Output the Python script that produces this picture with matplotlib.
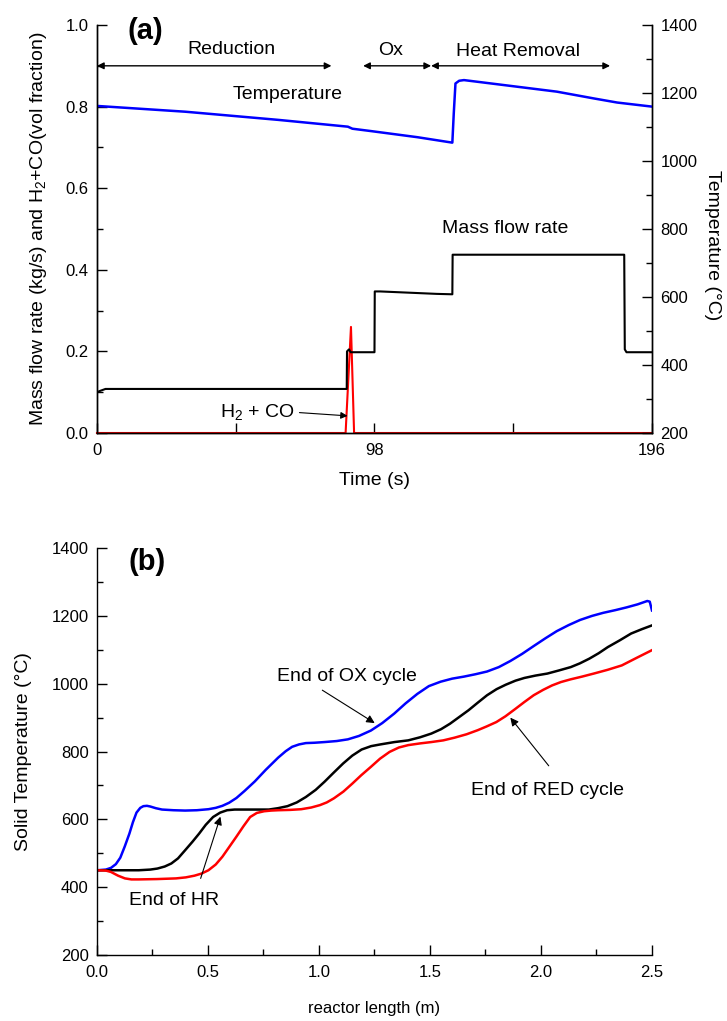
import matplotlib
matplotlib.use('Agg')
import matplotlib.pyplot as plt
from matplotlib.ticker import MultipleLocator, FixedLocator, FormatStrFormatter

plt.rcParams['font.family'] = ['Liberation Sans', 'DejaVu Sans']
plt.rcParams['mathtext.fontset'] = 'custom'
plt.rcParams['mathtext.rm'] = 'Liberation Sans'
plt.rcParams['mathtext.it'] = 'Liberation Sans'
plt.rcParams['axes.linewidth'] = 1.0

# ---- panel (a) data ----
mass_t = [0, 1, 3, 88.2, 88.3, 89.0, 89.6, 98.0, 98.1, 100, 110, 120, 125.5, 125.6, 186.2, 186.4, 187, 196]
mass_v = [0.100, 0.103, 0.108, 0.108, 0.200, 0.205, 0.198, 0.198, 0.347, 0.347, 0.344, 0.341, 0.340, 0.437,
          0.437, 0.205, 0.198, 0.198]

gas_t = [0, 87.8, 89.7, 90.8, 196]
gas_v = [0, 0, 0.26, 0, 0]

temp_t = [0, 31.2, 64, 88.6, 90.2, 96.8, 113.2, 125.5, 126.0, 126.6, 127.9, 129.6, 146, 162.4, 175.5, 183.7, 196]
temp_v = [1162, 1145, 1121, 1101, 1095, 1088, 1070, 1054, 1140, 1228, 1236, 1238, 1221, 1204, 1184, 1172, 1160]

# ---- panel (b) data ----
ox_x = [0, 0.04, 0.063, 0.085, 0.105, 0.125, 0.146, 0.162, 0.178, 0.195, 0.209, 0.225, 0.24, 0.265, 0.293,
        0.345, 0.397, 0.45, 0.502, 0.535, 0.565, 0.595, 0.628, 0.665, 0.711, 0.76, 0.816, 0.85, 0.879, 0.91,
        0.941, 0.98, 1.025, 1.08, 1.13, 1.18, 1.234, 1.285, 1.339, 1.39, 1.443, 1.495, 1.548, 1.6, 1.653,
        1.705, 1.757, 1.81, 1.862, 1.915, 1.967, 2.02, 2.071, 2.125, 2.176, 2.23, 2.28, 2.335, 2.385, 2.435,
        2.479, 2.49, 2.5]
ox_T = [450, 452, 457, 468, 487, 520, 558, 592, 620, 634, 639, 640, 638, 633, 629, 627, 626, 627, 630, 634,
        640, 649, 663, 684, 712, 746, 782, 801, 814, 821, 825, 826, 828, 831, 836, 846, 862, 884, 912, 942,
        970, 993, 1006, 1015, 1021, 1028, 1036, 1049, 1067, 1088, 1111, 1134, 1155, 1173, 1188, 1200, 1209,
        1217, 1225, 1234, 1244, 1242, 1216]

hr_x = [0, 0.1, 0.188, 0.24, 0.272, 0.305, 0.335, 0.365, 0.397, 0.43, 0.46, 0.49, 0.523, 0.555, 0.586,
        0.62, 0.649, 0.71, 0.774, 0.815, 0.858, 0.9, 0.941, 0.985, 1.025, 1.065, 1.109, 1.15, 1.192, 1.235,
        1.276, 1.34, 1.402, 1.455, 1.506, 1.55, 1.59, 1.63, 1.674, 1.715, 1.757, 1.8, 1.841, 1.885, 1.925,
        1.975, 2.029, 2.08, 2.134, 2.175, 2.218, 2.26, 2.301, 2.355, 2.406, 2.455, 2.5]
hr_T = [450, 450, 450, 452, 455, 461, 470, 485, 509, 534, 558, 584, 607, 620, 627, 629, 629, 629, 629, 633,
        639, 650, 666, 687, 711, 737, 765, 788, 806, 816, 821, 828, 833, 842, 853, 866, 882, 901, 922, 944,
        966, 984, 997, 1009, 1017, 1024, 1030, 1039, 1049, 1060, 1074, 1090, 1108, 1128, 1148, 1161, 1172]

red_x = [0, 0.04, 0.063, 0.095, 0.126, 0.155, 0.188, 0.27, 0.356, 0.4, 0.439, 0.47, 0.502, 0.535, 0.565,
         0.595, 0.628, 0.66, 0.69, 0.72, 0.753, 0.785, 0.816, 0.87, 0.92, 0.965, 1.004, 1.035, 1.067, 1.11,
         1.151, 1.19, 1.234, 1.275, 1.318, 1.36, 1.402, 1.455, 1.506, 1.56, 1.611, 1.665, 1.715, 1.755, 1.799,
         1.84, 1.883, 1.925, 1.967, 2.01, 2.05, 2.09, 2.134, 2.185, 2.238, 2.3, 2.364, 2.43, 2.5]
red_T = [450, 449, 445, 434, 426, 423, 423, 424, 426, 429, 434, 440, 450, 467, 490, 518, 549, 580, 607, 619,
         624, 626, 627, 628, 630, 635, 642, 650, 662, 682, 706, 730, 755, 779, 799, 812, 819, 824, 828, 833,
         841, 851, 863, 874, 887, 904, 925, 946, 966, 982, 995, 1005, 1013, 1021, 1030, 1041, 1054, 1076, 1099]

fig = plt.figure(figsize=(7.27, 10.21), dpi=100)

def style_ax(ax):
    ax.tick_params(which='both', direction='in', labelsize=12, width=1)
    ax.tick_params(which='major', length=7)
    ax.tick_params(which='minor', length=4)
    ax.tick_params(axis='y', pad=6)
    ax.tick_params(axis='x', pad=7)

# ---------- (a) ----------
ax1 = fig.add_axes([0.1334, 0.5759, 0.7634, 0.3996])
ax1.plot(mass_t, mass_v, color='black', lw=1.5, zorder=3)
ax1.plot(gas_t, gas_v, color='red', lw=1.5, zorder=2, clip_on=False)
ax1.set_xlim(0, 196)
ax1.set_ylim(0, 1.0)
ax1.xaxis.set_major_locator(FixedLocator([0, 98, 196]))
ax1.xaxis.set_minor_locator(FixedLocator([49, 147]))
ax1.yaxis.set_major_locator(MultipleLocator(0.2))
ax1.yaxis.set_minor_locator(MultipleLocator(0.1))
ax1.yaxis.set_major_formatter(FormatStrFormatter('%.1f'))
style_ax(ax1)
ax1.tick_params(axis='x', which='minor', length=7)
ax1.spines['top'].set_visible(False)
ax1.set_xlabel('Time (s)', fontsize=14, labelpad=10)
ax1.set_ylabel('Mass flow rate (kg/s) and H$_2$+CO(vol fraction)', fontsize=14, labelpad=12)

ax2 = ax1.twinx()
ax2.plot(temp_t, temp_v, color='blue', lw=1.8)
ax2.set_ylim(200, 1400)
ax2.yaxis.set_major_locator(MultipleLocator(200))
ax2.yaxis.set_minor_locator(MultipleLocator(100))
style_ax(ax2)
ax2.spines['top'].set_visible(False)
ax2.set_ylabel('Temperature (°C)', fontsize=14, rotation=270, labelpad=20)
ax2.yaxis.set_label_coords(1.125, 0.46)

ax1.text(0.088, 0.985, '(a)', transform=ax1.transAxes, fontsize=21, fontweight='bold', ha='center', va='center')
arrow_kw = dict(arrowstyle='<|-|>', color='black', lw=1, mutation_scale=10, shrinkA=0, shrinkB=0)
ax1.annotate('', xy=(0, 0.9), xytext=(82.8, 0.9), arrowprops=arrow_kw, annotation_clip=False)
ax1.annotate('', xy=(94, 0.9), xytext=(118, 0.9), arrowprops=arrow_kw)
ax1.annotate('', xy=(118, 0.9), xytext=(181.2, 0.9), arrowprops=arrow_kw)
ax1.text(47.6, 0.94, 'Reduction', fontsize=14, ha='center', va='center')
ax1.text(103.8, 0.937, 'Ox', fontsize=14, ha='center', va='center')
ax1.text(148.8, 0.935, 'Heat Removal', fontsize=14, ha='center', va='center')
ax1.text(67.2, 0.829, 'Temperature', fontsize=14, ha='center', va='center')
ax1.text(144.3, 0.502, 'Mass flow rate', fontsize=14, ha='center', va='center')
ax1.text(56.6, 0.052, 'H$_2$ + CO', fontsize=14, ha='center', va='center')
ax1.annotate('', xy=(88.5, 0.042), xytext=(71.5, 0.05),
             arrowprops=dict(arrowstyle='-|>', color='black', lw=0.8, mutation_scale=10, shrinkA=0, shrinkB=0))

# ---------- (b) ----------
ax3 = fig.add_axes([0.1334, 0.0646, 0.7634, 0.3986])
ax3.plot(ox_x, ox_T, color='blue', lw=1.8)
ax3.plot(hr_x, hr_T, color='black', lw=1.8)
ax3.plot(red_x, red_T, color='red', lw=1.8)
ax3.set_xlim(0, 2.5)
ax3.set_ylim(200, 1400)
ax3.xaxis.set_major_locator(MultipleLocator(0.5))
ax3.xaxis.set_minor_locator(MultipleLocator(0.25))
ax3.yaxis.set_major_locator(MultipleLocator(200))
ax3.yaxis.set_minor_locator(MultipleLocator(100))
style_ax(ax3)
ax3.spines['top'].set_visible(False)
ax3.spines['right'].set_visible(False)
ax3.set_xlabel('reactor length (m)', fontsize=12, labelpad=15)
ax3.set_ylabel('Solid Temperature (°C)', fontsize=14, labelpad=14)

ax3.text(0.09, 0.965, '(b)', transform=ax3.transAxes, fontsize=21, fontweight='bold', ha='center', va='center')
ann_kw = dict(arrowstyle='-|>', color='black', lw=0.8, mutation_scale=12, shrinkA=0, shrinkB=0)
ax3.text(1.125, 1020, 'End of OX cycle', fontsize=14, ha='center', va='center')
ax3.annotate('', xy=(1.251, 884), xytext=(1.015, 981), arrowprops=ann_kw)
ax3.text(2.03, 686, 'End of RED cycle', fontsize=14, ha='center', va='center')
ax3.annotate('', xy=(1.862, 900), xytext=(2.035, 758), arrowprops=ann_kw)
ax3.text(0.347, 362, 'End of HR', fontsize=14, ha='center', va='center')
ax3.annotate('', xy=(0.556, 608), xytext=(0.467, 426), arrowprops=ann_kw)

fig.savefig('out.png', dpi=100)
